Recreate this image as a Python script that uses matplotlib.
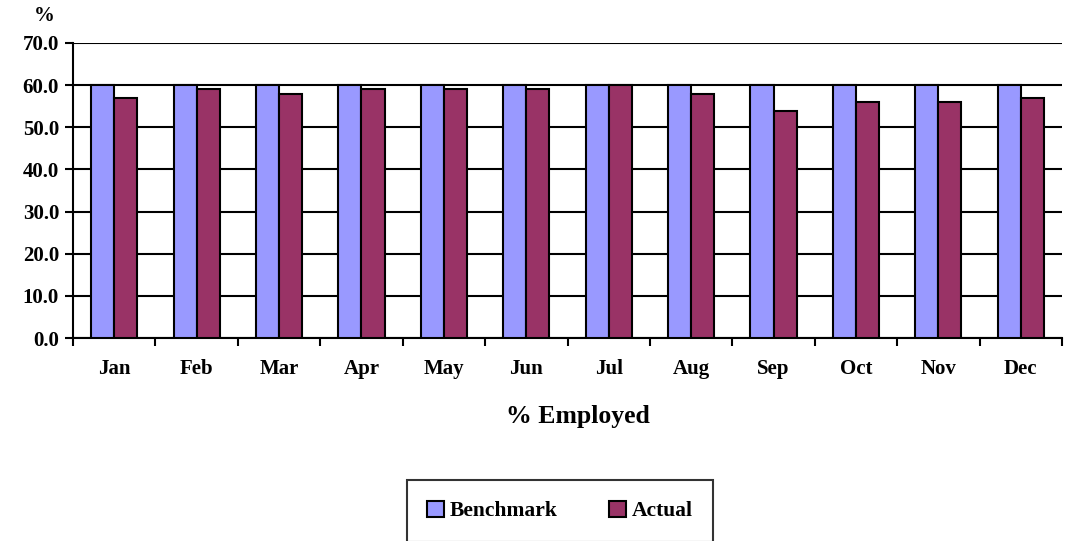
import matplotlib
matplotlib.use("Agg")
import matplotlib.pyplot as plt
import numpy as np

months = ["Jan", "Feb", "Mar", "Apr", "May", "Jun", "Jul", "Aug", "Sep", "Oct", "Nov", "Dec"]
benchmark = [60, 60, 60, 60, 60, 60, 60, 60, 60, 60, 60, 60]
actual = [57, 59, 58, 59, 59, 59, 60, 58, 53.8, 56.1, 56, 57]
yticks = [0, 10, 20, 30, 40, 50, 60, 70]

plt.rcParams['font.family'] = ['Liberation Serif', 'DejaVu Serif']
plt.rcParams['font.weight'] = 'bold'

fig = plt.figure(figsize=(10.68, 5.41), dpi=100)
ax = fig.add_axes([73/1068, 1-338/541, (1062-73)/1068, (338-43)/541])

x = np.arange(len(months))
w = 0.28
ax.bar(x - w/2, benchmark, w, color="#9999FF", edgecolor="black", linewidth=1.5, zorder=3, label="Benchmark")
ax.bar(x + w/2, actual, w, color="#993366", edgecolor="black", linewidth=1.5, zorder=3, label="Actual")

ax.set_xlim(-0.5, len(months) - 0.5)
ax.set_ylim(0, 70)
ax.set_yticks(yticks)
ax.set_yticklabels([f"{v:.1f}" for v in yticks], fontsize=15, fontweight='bold')
ax.yaxis.grid(True, color="black", linewidth=1.5, zorder=0)
ax.set_axisbelow(True)

ax.set_xticks(np.arange(len(months) + 1) - 0.5)
ax.set_xticklabels([])
ax.set_xticks(x, minor=True)
ax.set_xticklabels(months, minor=True, fontsize=15, fontweight='bold')
ax.tick_params(axis='x', which='minor', length=0, pad=15)
ax.tick_params(axis='x', which='major', length=6, width=1.5, direction='out')
ax.tick_params(axis='y', length=6, width=1.5, direction='out', pad=4)

for s in ['top', 'right']:
    ax.spines[s].set_visible(False)
for s in ['left', 'bottom']:
    ax.spines[s].set_linewidth(1.5)

fig.text(44/1068, 1-16/541, "%", fontsize=15, fontweight='bold', ha='center', va='center')
fig.text(578/1068, 1-417/541, "% Employed", fontsize=18.5, fontweight='bold', ha='center', va='center')

leg = fig.legend(loc='center', bbox_to_anchor=(560/1068, 1-511/541), ncol=2,
                 frameon=True, fancybox=False, edgecolor='black',
                 handlelength=0.8, handleheight=0.8, handletextpad=0.25,
                 columnspacing=2.4, borderpad=0.95, borderaxespad=0,
                 prop={'weight': 'bold', 'size': 15.5})
leg.get_frame().set_linewidth(1.5)

fig.savefig("out.png", dpi=100)
